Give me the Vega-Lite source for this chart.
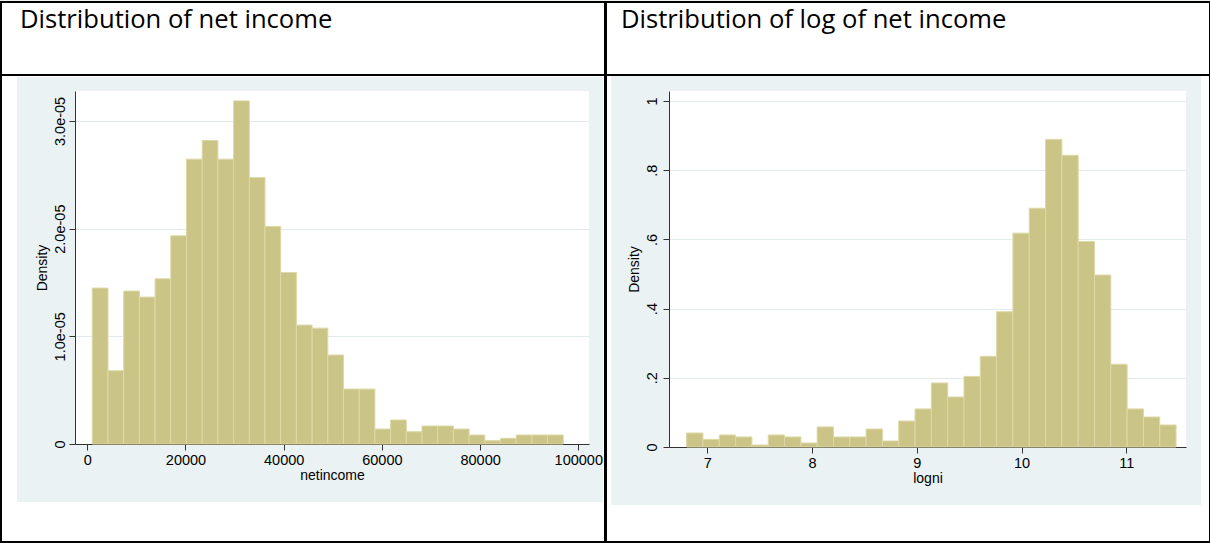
{
  "$schema": "https://vega.github.io/schema/vega-lite/v6.json",
  "background": "#EAF2F3",
  "padding": 0,
  "spacing": -2,
  "config": {
    "view": {"stroke": null, "fill": "#FFFFFF"},
    "font": "Liberation Sans",
    "axis": {
      "labelFont": "Liberation Sans", "labelFontSize": 14.5, "labelColor": "#000000",
      "titleFont": "Liberation Sans", "titleFontSize": 14, "titleFontWeight": "normal", "titleColor": "#000000",
      "domainColor": "#333333", "tickColor": "#333333", "tickSize": 6, "gridColor": "#E2EAED",
      "labelFlush": false, "labelOverlap": false, "labelBound": false
    },
    "title": {"font": "Open Sans", "fontSize": 25.6, "fontWeight": "normal", "color": "#000000", "anchor": "start", "frame": "group", "baseline": "alphabetic"}
  },
  "datasets": {
    "netincome": [
      {"bin_start": 1020, "bin_end": 4217.5, "density": 1.448e-5},
      {"bin_start": 4217.5, "bin_end": 7415, "density": 0.680e-5},
      {"bin_start": 7415, "bin_end": 10612.5, "density": 1.420e-5},
      {"bin_start": 10612.5, "bin_end": 13810, "density": 1.364e-5},
      {"bin_start": 13810, "bin_end": 17007.5, "density": 1.534e-5},
      {"bin_start": 17007.5, "bin_end": 20205, "density": 1.933e-5},
      {"bin_start": 20205, "bin_end": 23402.5, "density": 2.645e-5},
      {"bin_start": 23402.5, "bin_end": 26600, "density": 2.818e-5},
      {"bin_start": 26600, "bin_end": 29797.5, "density": 2.645e-5},
      {"bin_start": 29797.5, "bin_end": 32995, "density": 3.186e-5},
      {"bin_start": 32995, "bin_end": 36192.5, "density": 2.474e-5},
      {"bin_start": 36192.5, "bin_end": 39390, "density": 2.020e-5},
      {"bin_start": 39390, "bin_end": 42587.5, "density": 1.593e-5},
      {"bin_start": 42587.5, "bin_end": 45785, "density": 1.104e-5},
      {"bin_start": 45785, "bin_end": 48982.5, "density": 1.076e-5},
      {"bin_start": 48982.5, "bin_end": 52180, "density": 0.826e-5},
      {"bin_start": 52180, "bin_end": 55377.5, "density": 0.510e-5},
      {"bin_start": 55377.5, "bin_end": 58575, "density": 0.510e-5},
      {"bin_start": 58575, "bin_end": 61772.5, "density": 0.139e-5},
      {"bin_start": 61772.5, "bin_end": 64970, "density": 0.223e-5},
      {"bin_start": 64970, "bin_end": 68167.5, "density": 0.114e-5},
      {"bin_start": 68167.5, "bin_end": 71365, "density": 0.167e-5},
      {"bin_start": 71365, "bin_end": 74562.5, "density": 0.167e-5},
      {"bin_start": 74562.5, "bin_end": 77760, "density": 0.139e-5},
      {"bin_start": 77760, "bin_end": 80957.5, "density": 0.0835e-5},
      {"bin_start": 80957.5, "bin_end": 84155, "density": 0.031e-5},
      {"bin_start": 84155, "bin_end": 87352.5, "density": 0.053e-5},
      {"bin_start": 87352.5, "bin_end": 90550, "density": 0.0835e-5},
      {"bin_start": 90550, "bin_end": 93747.5, "density": 0.0835e-5},
      {"bin_start": 93747.5, "bin_end": 96945, "density": 0.0835e-5}
    ],
    "logni": [
      {"bin_start": 6.802, "bin_end": 6.9578, "density": 0.0405},
      {"bin_start": 6.9578, "bin_end": 7.1136, "density": 0.022},
      {"bin_start": 7.1136, "bin_end": 7.2694, "density": 0.0347},
      {"bin_start": 7.2694, "bin_end": 7.4252, "density": 0.029},
      {"bin_start": 7.4252, "bin_end": 7.581, "density": 0.0058},
      {"bin_start": 7.581, "bin_end": 7.7368, "density": 0.0347},
      {"bin_start": 7.7368, "bin_end": 7.8926, "density": 0.029},
      {"bin_start": 7.8926, "bin_end": 8.0484, "density": 0.0116},
      {"bin_start": 8.0484, "bin_end": 8.2042, "density": 0.058},
      {"bin_start": 8.2042, "bin_end": 8.36, "density": 0.029},
      {"bin_start": 8.36, "bin_end": 8.5158, "density": 0.029},
      {"bin_start": 8.5158, "bin_end": 8.6716, "density": 0.052},
      {"bin_start": 8.6716, "bin_end": 8.8274, "density": 0.0173},
      {"bin_start": 8.8274, "bin_end": 8.9832, "density": 0.075},
      {"bin_start": 8.9832, "bin_end": 9.139, "density": 0.110},
      {"bin_start": 9.139, "bin_end": 9.2948, "density": 0.185},
      {"bin_start": 9.2948, "bin_end": 9.4506, "density": 0.1445},
      {"bin_start": 9.4506, "bin_end": 9.6064, "density": 0.204},
      {"bin_start": 9.6064, "bin_end": 9.7622, "density": 0.262},
      {"bin_start": 9.7622, "bin_end": 9.918, "density": 0.391},
      {"bin_start": 9.918, "bin_end": 10.0738, "density": 0.618},
      {"bin_start": 10.0738, "bin_end": 10.2296, "density": 0.690},
      {"bin_start": 10.2296, "bin_end": 10.3854, "density": 0.889},
      {"bin_start": 10.3854, "bin_end": 10.5412, "density": 0.843},
      {"bin_start": 10.5412, "bin_end": 10.697, "density": 0.594},
      {"bin_start": 10.697, "bin_end": 10.8528, "density": 0.497},
      {"bin_start": 10.8528, "bin_end": 11.0086, "density": 0.239},
      {"bin_start": 11.0086, "bin_end": 11.1644, "density": 0.110},
      {"bin_start": 11.1644, "bin_end": 11.3202, "density": 0.0867},
      {"bin_start": 11.3202, "bin_end": 11.476, "density": 0.0636}
    ],
    "one": [{}]
  },
  "hconcat": [
    {
      "width": 514,
      "height": 353,
      "title": {"text": "Distribution of net income", "dx": -55, "offset": -33},
      "layer": [
        {
          "data": {"name": "netincome"},
          "mark": {"type": "rect", "fill": "#CBC487", "stroke": "#DDD8A6", "strokeWidth": 1},
          "encoding": {
            "x": {
              "field": "bin_start", "type": "quantitative",
              "scale": {"domain": [-2505, 102180], "nice": false, "zero": false},
              "axis": {"values": [0, 20000, 40000, 60000, 80000, 100000], "format": "d", "title": "netincome", "labelPadding": 3, "titlePadding": 2, "grid": false}
            },
            "x2": {"field": "bin_end"},
            "y": {
              "field": "density", "type": "quantitative",
              "scale": {"domain": [0, 3.278e-5], "nice": false, "zero": false},
              "axis": {
                "values": [0, 1e-5, 2e-5, 3e-5],
                "labelExpr": "datum.value == 0 ? '0' : format(datum.value * 100000, '.1f') + 'e-05'",
                "labelAngle": -90, "labelAlign": "center", "labelBaseline": "alphabetic", "labelPadding": 4.5,
                "title": "Density", "titlePadding": 3, "grid": true
              }
            }
          }
        },
        {
          "data": {"name": "one"},
          "mark": {"type": "rect", "fill": "#FFFFFF", "strokeWidth": 0},
          "encoding": {"x": {"datum": -17576}, "x2": {"datum": 105438}, "y": {"datum": 3.408e-5}, "y2": {"datum": 4.1044e-5}}
        },
        {
          "data": {"name": "one"},
          "mark": {"type": "rect", "fill": "#FFFFFF", "strokeWidth": 0},
          "encoding": {"x": {"datum": -17576}, "x2": {"datum": -14318}, "y": {"datum": -9.1e-6}, "y2": {"datum": 3.408e-5}}
        },
        {
          "data": {"name": "one"},
          "mark": {"type": "rect", "fill": "#FFFFFF", "strokeWidth": 0},
          "encoding": {"x": {"datum": 105031}, "x2": {"datum": 105438}, "y": {"datum": -9.1e-6}, "y2": {"datum": 3.408e-5}}
        },
        {
          "data": {"name": "one"},
          "mark": {"type": "rect", "fill": "#FFFFFF", "strokeWidth": 0},
          "encoding": {"x": {"datum": -14318}, "x2": {"datum": 105031}, "y": {"datum": -9.1e-6}, "y2": {"datum": -5.386e-6}}
        },
        {
          "data": {"name": "one"},
          "mark": {"type": "rule", "stroke": "#000000", "strokeWidth": 2},
          "encoding": {"x": {"datum": -17576}, "x2": {"datum": 105438}, "y": {"datum": 3.4266e-5}}
        },
        {
          "data": {"name": "one"},
          "mark": {"type": "rect", "filled": false, "fill": null, "stroke": "#000000", "strokeWidth": 2},
          "encoding": {"x": {"datum": -17576}, "x2": {"datum": 105438}, "y": {"datum": -9.1e-6}, "y2": {"datum": 4.1044e-5}}
        }
      ]
    },
    {
      "width": 517,
      "height": 356,
      "title": {"text": "Distribution of log of net income", "dx": -48, "offset": -33},
      "layer": [
        {
          "data": {"name": "logni"},
          "mark": {"type": "rect", "fill": "#CBC487", "stroke": "#DDD8A6", "strokeWidth": 1},
          "encoding": {
            "x": {
              "field": "bin_start", "type": "quantitative",
              "scale": {"domain": [6.6334, 11.5709], "nice": false, "zero": false},
              "axis": {"values": [7, 8, 9, 10, 11], "format": "d", "title": "logni", "labelPadding": 3, "titlePadding": 2, "grid": false}
            },
            "x2": {"field": "bin_end"},
            "y": {
              "field": "density", "type": "quantitative",
              "scale": {"domain": [0, 1.0289], "nice": false, "zero": false},
              "axis": {
                "values": [0, 0.2, 0.4, 0.6, 0.8, 1],
                "labelExpr": "datum.value == 0 ? '0' : datum.value == 1 ? '1' : replace(format(datum.value, '.1f'), '0.', '.')",
                "labelAngle": -90, "labelAlign": "center", "labelBaseline": "alphabetic", "labelPadding": 7,
                "title": "Density", "titlePadding": 3, "grid": true
              }
            }
          }
        },
        {
          "data": {"name": "one"},
          "mark": {"type": "rect", "fill": "#FFFFFF", "strokeWidth": 0},
          "encoding": {"x": {"datum": 6.0317}, "x2": {"datum": 11.8001}, "y": {"datum": 1.07225}, "y2": {"datum": 1.28613}}
        },
        {
          "data": {"name": "one"},
          "mark": {"type": "rect", "fill": "#FFFFFF", "strokeWidth": 0},
          "encoding": {"x": {"datum": 6.0317}, "x2": {"datum": 6.0795}, "y": {"datum": -0.27457}, "y2": {"datum": 1.07225}}
        },
        {
          "data": {"name": "one"},
          "mark": {"type": "rect", "fill": "#FFFFFF", "strokeWidth": 0},
          "encoding": {"x": {"datum": 11.7142}, "x2": {"datum": 11.8001}, "y": {"datum": -0.27457}, "y2": {"datum": 1.07225}}
        },
        {
          "data": {"name": "one"},
          "mark": {"type": "rect", "fill": "#FFFFFF", "strokeWidth": 0},
          "encoding": {"x": {"datum": 6.0795}, "x2": {"datum": 11.7142}, "y": {"datum": -0.27457}, "y2": {"datum": -0.16763}}
        },
        {
          "data": {"name": "one"},
          "mark": {"type": "rule", "stroke": "#000000", "strokeWidth": 2},
          "encoding": {"x": {"datum": 6.0317}, "x2": {"datum": 11.8001}, "y": {"datum": 1.07514}}
        },
        {
          "data": {"name": "one"},
          "mark": {"type": "rect", "filled": false, "fill": null, "stroke": "#000000", "strokeWidth": 2},
          "encoding": {"x": {"datum": 6.0317}, "x2": {"datum": 11.8001}, "y": {"datum": -0.27457}, "y2": {"datum": 1.28613}}
        }
      ]
    }
  ]
}
